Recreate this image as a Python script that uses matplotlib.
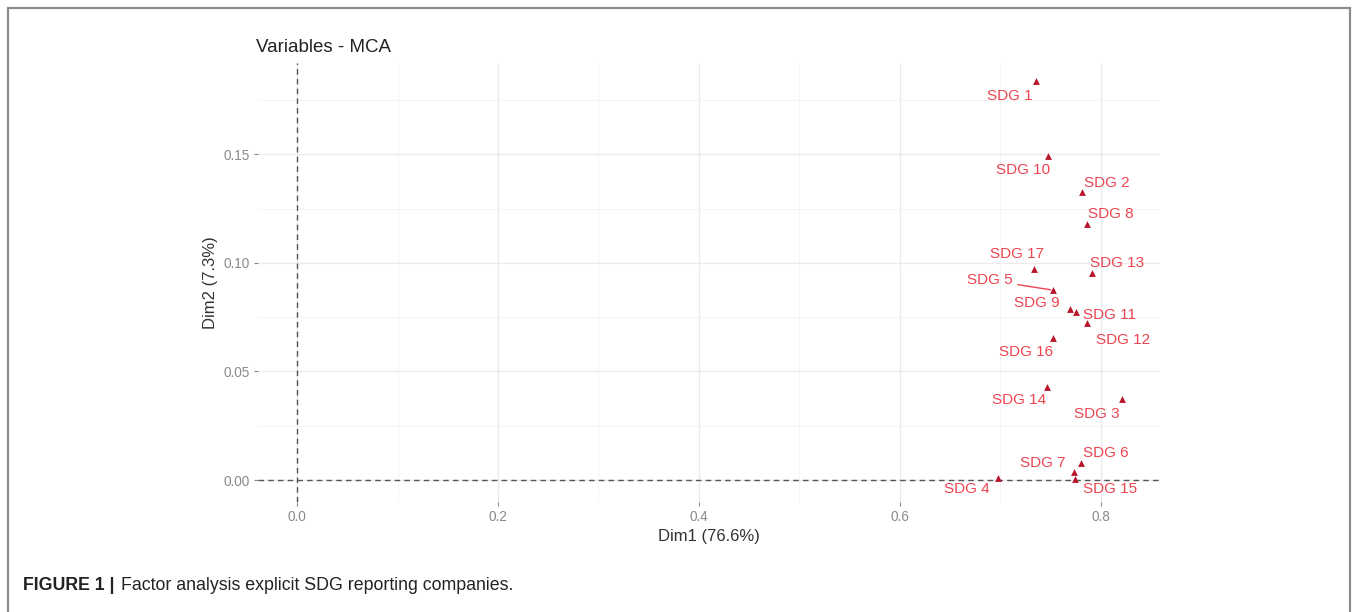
import matplotlib.pyplot as plt
from matplotlib.patches import Rectangle
from matplotlib.ticker import MultipleLocator

plt.rcParams['font.family'] = ['Liberation Sans', 'DejaVu Sans']

# MCA variable coordinates
labels = ["SDG 1", "SDG 10", "SDG 2", "SDG 8", "SDG 17", "SDG 13", "SDG 5", "SDG 9",
          "SDG 11", "SDG 12", "SDG 16", "SDG 14", "SDG 3", "SDG 6", "SDG 7", "SDG 15", "SDG 4"]
dim1 = [0.736, 0.748, 0.781, 0.786, 0.734, 0.791, 0.753, 0.769,
        0.775, 0.786, 0.753, 0.747, 0.821, 0.780, 0.773, 0.774, 0.698]
dim2 = [0.1836, 0.1491, 0.1325, 0.1178, 0.0971, 0.0953, 0.0874, 0.0787,
        0.0773, 0.0722, 0.0653, 0.0428, 0.0373, 0.0078, 0.0037, 0.0005, 0.0009]

# label offsets in pixels (repel-style placement)
offsets = [(-27, -15), (-25, -14), (25, 9), (24, 10), (-17, 15), (25, 10), (-64, 10), (-33, 6),
           (34, -3), (36, -17), (-27, -14), (-28, -13), (-25, -15), (25, 10), (-31, 9), (35, -10), (-31, -11)]

red_txt = '#ec4450'
red_pt = '#b8142a'

fig = plt.figure(figsize=(13.57, 6.12), dpi=100)
ax = fig.add_axes([0.1901, 0.1797, 0.6647, 0.7173])

ax.set_xlim(-0.039, 0.859)
ax.set_ylim(-0.0101, 0.192)
ax.xaxis.set_minor_locator(MultipleLocator(0.1))
ax.yaxis.set_minor_locator(MultipleLocator(0.025))
ax.set_xticks([0.0, 0.2, 0.4, 0.6, 0.8], ["0.0", "0.2", "0.4", "0.6", "0.8"])
ax.set_yticks([0.0, 0.05, 0.10, 0.15], ["0.00", "0.05", "0.10", "0.15"])
ax.grid(True, which='major', color='#ebebeb', linewidth=1.0)
ax.grid(True, which='minor', color='#f4f4f4', linewidth=0.7)
ax.set_axisbelow(True)
for s in ax.spines.values():
    s.set_visible(False)
ax.tick_params(which='major', length=3, color='#888888', labelcolor='#8a8a8a', labelsize=9.8, pad=3)
ax.tick_params(which='minor', length=0)

ax.axhline(0, color='#555555', linestyle=(0, (4, 3)), linewidth=1.0)
ax.axvline(0, color='#555555', linestyle=(0, (4, 3)), linewidth=1.0)

ax.scatter(dim1, dim2, marker='^', s=24, color=red_pt, zorder=3, linewidths=0)

for lab, x, y, (dx, dy) in zip(labels, dim1, dim2, offsets):
    kw = {}
    if lab == "SDG 5":
        kw['arrowprops'] = dict(arrowstyle='-', color=red_txt, lw=1.0, shrinkA=2, shrinkB=2)
    ax.annotate(lab, (x, y), xytext=(dx, dy), textcoords='offset pixels',
                ha='center', va='center', color=red_txt, fontsize=11, zorder=4, **kw)

ax.set_title("Variables - MCA", loc='left', fontsize=13.5, color='#222222', pad=8, x=-0.002)
ax.set_xlabel("Dim1 (76.6%)", fontsize=12, color='#333333', labelpad=3)
ax.set_ylabel("Dim2 (7.3%)", fontsize=12, color='#333333', labelpad=4)

# outer frame and caption
fig.patches.append(Rectangle((8 / 1357, -0.05), 1342 / 1357, 1.05 - 8 / 612,
                             transform=fig.transFigure, fill=False,
                             edgecolor='#8c8c8c', linewidth=1.6))
fig.text(23 / 1357, 1 - 585 / 612, "FIGURE 1 |", fontsize=12.8, fontweight='bold',
         color='#222222', va='center', ha='left')
fig.text(121 / 1357, 1 - 585 / 612, "Factor analysis explicit SDG reporting companies.",
         fontsize=12.8, color='#222222', va='center', ha='left')

fig.savefig("out.png", dpi=100)
